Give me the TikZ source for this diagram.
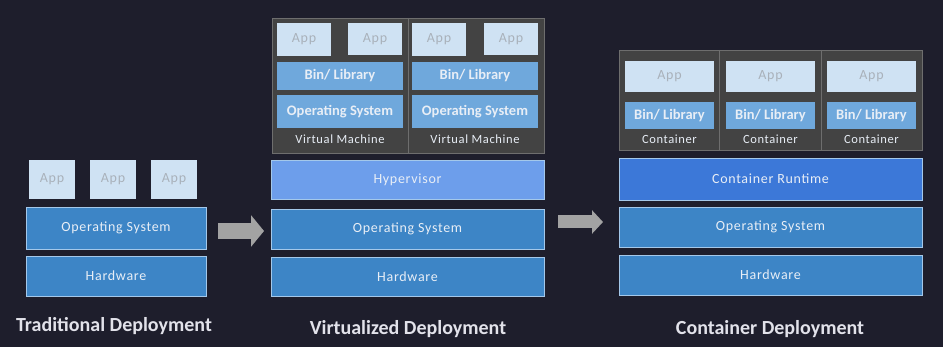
\documentclass[tikz,border=0pt]{standalone}
\usepackage{fontspec}
\setmainfont{Carlito}
\newfontfamily\spacedfont[LetterSpace=5]{Carlito}
\usetikzlibrary{arrows.meta, positioning, calc}

\definecolor{bgnavy}{HTML}{1E1E2C}
\definecolor{appblue}{HTML}{CFE2F3}
\definecolor{apptext}{HTML}{A9B1BA}
\definecolor{osblue}{HTML}{3D85C6}
\definecolor{libblue}{HTML}{6FA8DC}
\definecolor{hyperblue}{HTML}{6D9EEB}
\definecolor{runblue}{HTML}{3C78D8}
\definecolor{edgeblue}{HTML}{A4C8EA}
\definecolor{labeltext}{HTML}{E8EEF6}
\definecolor{framegray}{HTML}{434343}
\definecolor{frameedge}{HTML}{6E6E6E}
\definecolor{arrowgray}{HTML}{A3A3A3}
\definecolor{titletext}{HTML}{E2E2EA}

\begin{document}
\begin{tikzpicture}[
        x=1pt, y=-1pt,
        node distance=7pt,
        box/.style={rectangle, inner sep=0pt, outer sep=0pt, align=center},
        appbox/.style={box, fill=appblue, text=apptext, font=\spacedfont\fontsize{14}{16}\selectfont},
        layer/.style={box, fill=osblue, draw=edgeblue, line width=0.7pt, text=labeltext, font=\spacedfont\fontsize{14}{16}\selectfont},
        libbox/.style={box, fill=libblue, text=labeltext, font=\fontsize{14.5}{16}\selectfont\bfseries},
        frame/.style={box, fill=framegray, draw=frameedge, line width=0.8pt},
        caption/.style={text=labeltext, font=\spacedfont\fontsize{12.5}{14}\selectfont},
        title/.style={text=titletext, font=\fontsize{20}{24}\selectfont\bfseries},
        bigarrow/.style={draw=arrowgray, line width=16pt, -{Triangle[length=13pt, width=31pt]}},
        smallarrow/.style={draw=arrowgray, line width=13pt, -{Triangle[length=11pt, width=23pt]}}
    ]
        \fill[bgnavy] (0,0) rectangle (943,347);

        % traditional
        \node[appbox, minimum width=46pt, minimum height=39pt] (tapp1) at (52,179.5) {App};
        \node[appbox, minimum width=46pt, minimum height=39pt] (tapp2) at (113,179.5) {App};
        \node[appbox, minimum width=46pt, minimum height=39pt] (tapp3) at (174,179.5) {App};
        \node[layer, minimum width=180pt, minimum height=42pt] (tos) at (116,228) {Operating System};
        \node[layer, minimum width=180pt, minimum height=40pt, below=of tos] (thw) {Hardware};
        \node[title] (ttitle) at (114,326) {Traditional Deployment};

        % virtualized
        \node[frame, minimum width=272pt, minimum height=135pt] (vframe) at (408,85.5) {};
        \draw[frameedge, line width=0.8pt] (vframe.north) -- (vframe.south);
        \node[appbox, minimum width=54pt, minimum height=33pt] (vapp1) at (304,39.5) {App};
        \node[appbox, minimum width=54pt, minimum height=32pt] (vapp2) at (375,39) {App};
        \node[appbox, minimum width=54pt, minimum height=33pt] (vapp3) at (439,39.5) {App};
        \node[appbox, minimum width=54pt, minimum height=32pt] (vapp4) at (511,39) {App};
        \node[libbox, minimum width=126pt, minimum height=28pt] (vlib1) at (340,76) {Bin/ Library};
        \node[libbox, minimum width=126pt, minimum height=28pt] (vlib2) at (475,76) {Bin/ Library};
        \node[libbox, minimum width=126pt, minimum height=33pt] (vguest1) at (340,111.5) {Operating System};
        \node[libbox, minimum width=126pt, minimum height=33pt] (vguest2) at (475,111.5) {Operating System};
        \node[caption] (vcap1) at (340,139) {Virtual Machine};
        \node[caption] (vcap2) at (475,139) {Virtual Machine};
        \node[layer, fill=hyperblue, minimum width=273pt, minimum height=39pt] (vhyp) at (407.5,179.5) {Hypervisor};
        \node[layer, minimum width=273pt, minimum height=40pt] (vos) at (407.5,229) {Operating System};
        \node[layer, minimum width=273pt, minimum height=39pt] (vhw) at (407.5,276.5) {Hardware};
        \node[title] (vtitle) at (408,329) {Virtualized Deployment};

        % container
        \node[frame, minimum width=303pt, minimum height=100pt] (cframe) at (770.5,100) {};
        \draw[frameedge, line width=0.8pt] (719,50) -- (719,150) (821,50) -- (821,150);
        \foreach \i/\cx in {1/669.5, 2/770.5, 3/871.5} {
            \node[appbox, minimum width=89pt, minimum height=31pt] (capp\i) at (\cx,76.5) {App};
            \node[libbox, minimum width=89pt, minimum height=27pt] (clib\i) at (\cx,115.5) {Bin/ Library};
            \node[caption] (ccap\i) at (\cx,139) {Container};
        }
        \node[layer, fill=runblue, minimum width=303pt, minimum height=42pt] (crun) at (770.5,179) {Container Runtime};
        \node[layer, minimum width=303pt, minimum height=40pt] (cos) at (770.5,227) {Operating System};
        \node[layer, minimum width=303pt, minimum height=40pt] (chw) at (770.5,275) {Hardware};
        \node[title] (ctitle) at (770,329) {Container Deployment};

        \draw[bigarrow] ($(tos.east)+(12,3)$) -- ($(vos.west)+(-7,2)$);
        \draw[smallarrow] ($(vos.east)+(14,-7)$) -- ($(cos.west)+(-16,-5)$);
    \end{tikzpicture}
\end{document}
